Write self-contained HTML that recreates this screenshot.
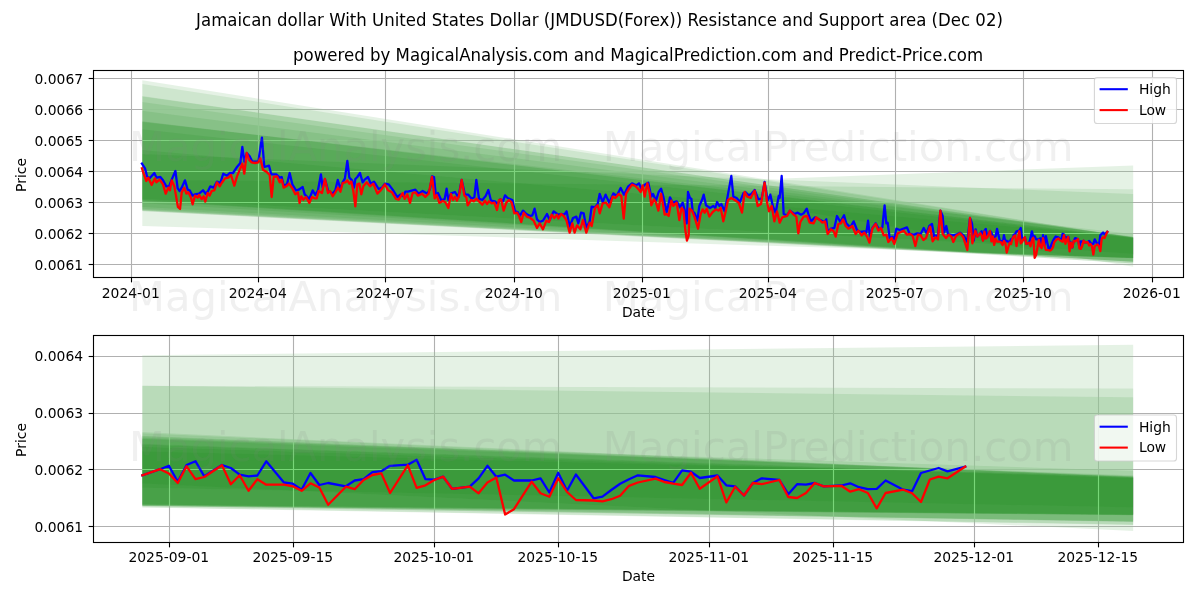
<!DOCTYPE html>
<html lang="en"><head><meta charset="utf-8"><title>JMDUSD Resistance and Support area</title>
<style>html,body{margin:0;padding:0;background:#fff}body{width:1200px;height:600px;overflow:hidden}</style></head>
<body>
<svg width="1200" height="600" viewBox="0 0 1200 600" style="display:block;font-family:'DejaVu Sans','Liberation Sans',sans-serif">
<rect width="1200" height="600" fill="#fff"/>
<defs><clipPath id="c1"><rect x="93.5" y="70.5" width="1090.0" height="207.0"/></clipPath><clipPath id="c2"><rect x="93.5" y="335.5" width="1090.0" height="207.0"/></clipPath></defs>
<g clip-path="url(#c1)">
<g fill="#008000" fill-opacity="0.1" stroke="none">
<polygon points="142.3,80.3 1133.2,237.6 1133.2,258 977.5,252.4 142.3,226"/>
<polygon points="142.3,84 1133.2,237.6 1133.2,263.6 977.5,254 142.3,211.3"/>
<polygon points="142.3,96 1133.2,237.4 1133.2,263.4 977.5,253.8 142.3,211"/>
<polygon points="142.3,96.5 1133.2,237 1133.2,258.3 977.5,253.4 142.3,210.6"/>
<polygon points="142.3,102 1133.2,237 1133.2,258.2 977.5,253.2 142.3,210.2"/>
<polygon points="142.3,110.7 1133.2,236.5 1133.2,258.1 977.5,253 142.3,209.7"/>
<polygon points="142.3,121.3 1133.2,237.6 1133.2,258.1 977.5,252.8 142.3,208.7"/>
<polygon points="142.3,121.6 1133.2,238 1133.2,258 977.5,252.6 142.3,207"/>
<polygon points="142.3,121.9 1133.2,234.1 1133.2,261.9 977.5,252.5 142.3,203.3"/>
<polygon points="142.3,129.3 1133.2,238 1133.2,261.7 977.5,252.2 142.3,200.5"/>
<polygon points="142.3,150 1133.2,237 1133.2,254 977.5,243.3 142.3,199"/>
<polygon points="783,178.5 1133.2,165.4 1133.2,266.8 783,208.5"/>
<polygon points="142.3,179.7 1133.2,189.3 1133.2,261.8 977.5,253 142.3,200"/>
<polygon points="142.3,154 1133.2,194.05 1133.2,261.6 977.5,253.2 142.3,201"/>
</g>
<g stroke="#b0b0b0" stroke-width="1.11" fill="none" style="mix-blend-mode:luminosity">
<line x1="131.5" y1="70.5" x2="131.5" y2="277.5"/>
<line x1="258.5" y1="70.5" x2="258.5" y2="277.5"/>
<line x1="385.5" y1="70.5" x2="385.5" y2="277.5"/>
<line x1="514.5" y1="70.5" x2="514.5" y2="277.5"/>
<line x1="642.5" y1="70.5" x2="642.5" y2="277.5"/>
<line x1="768.5" y1="70.5" x2="768.5" y2="277.5"/>
<line x1="895.5" y1="70.5" x2="895.5" y2="277.5"/>
<line x1="1023.5" y1="70.5" x2="1023.5" y2="277.5"/>
<line x1="1152.5" y1="70.5" x2="1152.5" y2="277.5"/>
<line x1="93.5" y1="264.5" x2="1183.5" y2="264.5"/>
<line x1="93.5" y1="233.5" x2="1183.5" y2="233.5"/>
<line x1="93.5" y1="202.5" x2="1183.5" y2="202.5"/>
<line x1="93.5" y1="171.5" x2="1183.5" y2="171.5"/>
<line x1="93.5" y1="140.5" x2="1183.5" y2="140.5"/>
<line x1="93.5" y1="109.5" x2="1183.5" y2="109.5"/>
<line x1="93.5" y1="78.5" x2="1183.5" y2="78.5"/>
</g>
<polyline points="141.93,163.67 145,168.33 147,176.33 149.67,178.33 154.33,173 156.6,177.67 160.33,177 163,180.33 166.33,186.33 169,186.33 171.67,179.67 175.4,171 177.67,188.33 179.67,191 181.67,187.67 185,180.33 187.67,189.67 189.67,190.33 192.6,195.67 195,194.33 199,193.67 203,190.33 205.67,193.67 207.67,191.67 210.33,186.33 213.67,187.67 217,181.67 220.33,183 223.27,173.67 227,175.67 229.67,173 233,173 237,167 240.33,163 242.33,147 244.33,161.67 246.73,153 249.67,156.33 252.33,161.67 258.33,161.67 261.93,137.67 264.33,167 269,165.67 271.27,174.33 276.33,174.33 279.67,177.67 281.67,177 283.67,185.67 287,184.33 289.67,173 292.33,184.33 296,190.33 298.67,189.67 302.67,187 304.67,194.33 309.33,199 312.67,190.33 315.33,195 318,190.33 320.93,174.33 322.67,187.67 324.93,179 328,190.33 332.67,193.67 335.33,190.33 337.73,179.93 340.4,189 342.67,182.33 344.93,178.33 347.33,161 349.33,177.67 352,180.33 354,187.67 355.33,179 357.33,177 360,173 362.67,182.33 364.67,179.67 368,177 370.67,183.67 374,181.67 378.67,189 382,187.67 384.93,183.67 388.67,184.33 392.67,189.67 397.33,197 400.67,194.33 403.33,196.33 405.33,191.67 408,191.67 415.33,189.67 418.67,193.67 422.67,191 427.33,193.67 430,189 432,176.33 434,177 436,196.33 438,193 441.33,200.33 444.67,199 446.6,188.67 448.33,200 451,193.33 455,192 458.33,197.33 461.67,180 465,194.67 468.33,194.67 471.67,198.67 474.33,197.33 476.33,180 479,198.67 482.33,200 485.67,196 488.33,190 491,200.67 495,201.33 497.67,204 500.33,199.33 503,201.33 505,195.33 507.67,198 512.33,200 515,211.33 517.67,212 519.67,216 523,210.67 526.33,214 530.33,216 532.33,215.33 534.6,208.67 537,219.33 539.67,222 543,220.67 547,214 549.67,220 553.67,211.33 558.33,214.67 561.67,214 564.33,214.67 566.6,211.33 569.67,226.67 573,218 576.33,216.67 578.33,223.33 581,212.67 583.67,213.33 586.33,228 589.67,221.33 591.67,206.67 595,207.33 597.67,204 599.67,194 602.67,202 605.6,194.67 609.33,202.67 613.33,193.33 616.67,196 620.67,188 624,194.67 628,186.67 632,183.33 636,185.33 638.93,183.33 641.33,188.67 644.67,184.67 648.27,182.67 651.33,196.67 653.07,194 656,200.67 658.67,192 661.07,188.67 663.33,196.67 666.67,212 670,197.33 672.67,202.67 676.67,201.33 680,207.33 682.67,202.67 684.67,210 686.67,223.33 688,192 690,198 691.33,198.67 692.67,211.33 694.67,213.33 697.33,220.67 699.33,206 702,200 703.73,194.67 706,205.33 710,208 713.33,206 715.33,208 717.07,202 719.33,206 721.33,204 724.67,211.33 727.33,198 731.33,176 733.33,196.67 736.67,198 740,202 743.33,193.33 745.33,192 748.67,195.33 751.33,194 754.67,190 758.33,199.33 761.67,198.67 764.6,182 767.67,200.67 770.33,194.67 773,206.67 775.67,212.67 778.73,196 779.67,198 781.67,176 783.67,214 787,215.33 789.93,210.67 794.33,214 797.67,212.67 801,214.67 803.67,213.33 806.73,208.67 809,216 811,221.33 815,217.33 820.33,220 824.33,222 826.33,219.33 827.67,232 831,228.67 834.33,228 837,216 840.33,222 844.07,215.33 846.33,223.33 850.33,227.33 853.67,221.33 857,230 860.33,232 864.33,231.33 866.33,232.67 868.07,220.67 869.93,236.67 872.33,228 875.67,223.33 879,229.33 882.33,227.33 884.6,205.33 886.33,223.33 887.67,222.67 889.67,238 892.33,236.67 894.33,239.33 896.33,228.67 899.67,230 903.67,228.67 907,227.33 909.67,234 914,234.67 917.33,233.33 920.67,234 923.73,228 926.67,233.33 929.33,226 932,224 934,236 938,235.33 940.4,210.67 942.67,216 944,232.67 946.27,226 948,234 952.67,235.33 956,234.67 960,232.67 964,236 967.33,242 970,218 972,223.33 973.73,240.67 975.6,229.33 977.43,236.51 980.22,233.19 981.62,231.34 983.01,240 984.41,230.91 985.8,228.84 987.2,237.06 989.99,230.91 991.39,232.54 992.79,236.19 994.18,237.06 995.58,236.62 996.98,228.89 999.77,240.43 1001.17,241.08 1002.56,244.35 1003.96,235.26 1005.36,241.79 1006.75,240.7 1009.54,242.5 1010.94,239.34 1012.34,238.64 1013.73,234.82 1015.13,234.28 1016.53,231.34 1019.32,230.74 1020.72,228.02 1022.11,238.64 1023.51,238.91 1024.91,237.27 1026.3,243.86 1029.1,242.72 1030.49,238.15 1031.89,231.34 1033.29,237.27 1034.68,236.19 1036.08,239.34 1038.87,239.34 1040.27,238.15 1041.66,245.87 1043.06,235.15 1044.46,244.95 1045.85,236.08 1048.65,249.03 1050.04,248.16 1051.44,244.51 1052.84,241.08 1054.23,238.64 1055.63,236.51 1058.42,237.44 1059.82,239.07 1061.22,240.59 1062.61,233.79 1064.01,234.55 1065.4,237.98 1068.2,236.62 1069.59,241.96 1070.99,242.5 1072.39,247.51 1073.78,240.7 1075.18,238.15 1077.97,239.07 1079.37,246.8 1080.77,241.36 1082.16,241.63 1083.56,240.7 1084.96,242.5 1087.75,242.06 1089.15,240.87 1090.54,242.99 1091.94,244.08 1093.34,243.86 1094.73,239.34 1097.52,244.35 1098.92,245.17 1100.32,235.26 1101.71,233.9 1103.11,232.54 1104.51,234.33 1107.3,231.83" fill="none" stroke="#0000ff" stroke-width="2.3" stroke-linejoin="round" stroke-linecap="square"/>
<polyline points="141.93,168.33 143.67,173.67 146.33,181 148.33,177.67 151.67,185 155,178.33 156.33,182.33 159.67,179.67 163,184.33 165.67,193.67 168.33,187.67 169.93,190.33 171.67,180.33 174.33,186.33 176.33,197.67 177.93,207 180.07,209 181.67,192.33 184.33,187.67 186.33,193.67 188.33,192.33 191,197.67 192.6,204.33 195,195.67 197.67,197.67 199,195 201.67,199 203.67,196.33 205.27,201.67 207.67,193 209.67,195.67 211.67,191 214.33,190.33 217,182.33 219.67,186.33 221.67,183 225,178.33 228.33,177.67 231,175 234.33,185.67 237,176.33 240.33,168.33 242.33,163.67 244.33,173.67 246.73,153 249,159.67 251.67,162.33 255,163 258.33,162.33 260.33,158.33 263,169.67 266.33,171.67 269.67,175 271.67,197 273.67,177 277,176.33 279.67,182.33 281.67,179.67 283.67,187.67 286.33,186.33 289,183.67 292.33,188.33 295.33,194.33 298,192.33 299.6,203 301.33,196.33 303.33,199.67 306,197 309.33,203 312,197 314.67,198.33 316.67,198.33 318.67,191 322,193 324.93,179 328,193 330,191 332.67,196.33 335.33,192.33 338,187.67 340.4,191.67 342.67,183 345.33,182.33 347.33,180.33 349.33,183.67 351.33,181.67 353.33,191 355.33,206.33 357.33,184.33 359.33,183.67 361.33,194.33 363.33,186.33 366.67,182.33 370,186.33 373.33,183.67 377.33,193.67 380.67,190.33 384.93,184.33 388,190.33 392,192.33 396,199 398.67,199.67 402.67,193 404.67,199 407.33,194.33 410,203 412.67,193 415.33,192.33 418,195.67 422,193.67 425.33,197 428.67,193.67 432,177 434.67,198.33 436.67,195 439.33,203 442.67,201 445.33,202.33 448.33,208 451,194 453,200 455,196.67 457,200.67 459,196 461.67,180 464.33,195.33 466.33,197.33 467.67,205.33 471,200 473.67,201.33 476.33,198.67 479,201.33 482.33,204.67 485,200.67 487,204 489,201.33 491.67,203.33 494.33,202.67 497,210 499,200 501,199.33 503.67,210.67 506.33,202.67 509,200 511.67,202.67 514.33,213.33 517,212.67 519,216 521.27,222 523.67,212.67 527,216.67 530.33,218 533.67,220.67 537,228 539.67,223.33 543,229.33 546.33,220.67 549,222 551.67,214.67 554.33,218 557,214.67 558.33,218.67 561,214 563.67,216 566.33,220 569.67,232.67 572.33,223.33 574.6,232.67 577,225.33 580.33,229.33 583,220 586.33,232.67 589.67,222.67 591.67,226 595,208 597.67,205.33 599.67,213.33 602.67,203.33 606,202.67 609.33,207.33 612.67,196.67 615.33,198 618.67,194 621.33,196 623.73,218.67 626,194 628.67,189.33 632,184.67 635.33,186 638.67,189.33 640.67,192 642.67,185.33 644.67,196.67 647.33,183.33 649.6,192.67 651.33,205.33 654,199.33 656,202.67 658.4,210.67 661.07,194 662.67,202.67 664.67,214.67 666.67,214 668.67,216 671.33,200.67 673.33,206 676.67,202.67 679.33,220 681.6,208 683.33,210 685.33,230 686.93,240.67 688.67,235.33 689.6,208.67 692,210.67 694.67,217.33 698,228.67 700.67,214 702.67,209.33 704.67,212.67 706.67,208.67 709.33,216.67 712.67,212 716,209.33 718.67,210.67 720.67,208 723.33,221.33 726,210 728,200 731.33,198 734.67,200 738.67,202.67 742,212.67 744.67,192 747.33,196.67 750.67,198 754.67,190.67 757.67,206 761,204 764.6,182.67 767,202 769,211.33 771.67,206 774.33,221.33 777,211.33 779.67,222.67 782.33,217.33 787,216 789.93,210.67 793.67,214.67 796.33,216.67 798.33,233.33 800.33,222 803.67,216.67 807,216 809.67,222.67 813.67,223.33 816.33,217.33 819.67,220 822.33,222.67 825,221.33 827.67,234 831,229.33 833.67,231.33 835.67,236.67 838.33,224 841,223.33 843,219.33 845.67,226 848.33,228.67 852.33,226 855.67,234 858.33,230.67 861.67,235.33 864.33,232.67 867,236.67 869.4,242.67 872.33,228.67 875.67,224 878.33,230.67 881,228 883.67,235.33 886.33,234.67 888.33,242 891.67,238 894.33,244 897.67,233.33 901,232 903.67,230.67 907,234.67 910.33,234 912.67,236 915.33,246 918,234.67 920.67,235.33 923.33,240 926,238 930,226.67 932.67,241.33 935.33,237.33 938,239.33 940.4,210.67 942.67,234 946,238 948.67,234.67 951.33,236.67 953.33,242 956,236 960,233.33 963.33,237.33 967.33,250 970,218 972.4,243.33 975.33,230.67 977.43,236.51 980.22,233.19 981.62,235.53 983.01,240.7 984.41,231.61 985.8,238.64 987.2,237.44 989.99,231.07 991.39,241.36 992.79,236.51 994.18,244.95 995.58,238.64 996.98,241.63 999.77,241.63 1001.17,242.5 1002.56,244.95 1003.96,240.87 1005.36,243.15 1006.75,252.52 1009.54,242.72 1010.94,244.08 1012.34,239.07 1013.73,236.35 1015.13,235.42 1016.53,246.15 1019.32,231.07 1020.72,243.32 1022.11,241.96 1023.51,239.07 1024.91,237.27 1026.3,243.86 1029.1,242.72 1030.49,246.31 1031.89,240.43 1033.29,237.71 1034.68,257.85 1036.08,254.97 1038.87,240 1040.27,246.31 1041.66,248.16 1043.06,238.15 1044.46,245.6 1045.85,249.96 1048.65,250.23 1050.04,250.66 1051.44,249.52 1052.84,247.67 1054.23,242.23 1055.63,240.43 1058.42,238.36 1059.82,240.16 1061.22,241.08 1062.61,241.79 1064.01,235.15 1065.4,243.86 1068.2,237.06 1069.59,251.32 1070.99,242.72 1072.39,247.51 1073.78,240.7 1075.18,241.36 1077.97,239.07 1079.37,248.32 1080.77,248.87 1082.16,246.15 1083.56,240.7 1084.96,242.5 1087.75,242.23 1089.15,245.44 1090.54,244.08 1091.94,246.15 1093.34,254.48 1094.73,246.15 1097.52,244.35 1098.92,246.31 1100.32,251.05 1101.71,238.8 1103.11,237.27 1104.51,238.15 1107.3,231.83" fill="none" stroke="#ff0000" stroke-width="2.3" stroke-linejoin="round" stroke-linecap="square"/>
</g>
<g stroke="#000" stroke-width="1.11">
<line x1="131.5" y1="277.5" x2="131.5" y2="282.36"/>
<line x1="258.5" y1="277.5" x2="258.5" y2="282.36"/>
<line x1="385.5" y1="277.5" x2="385.5" y2="282.36"/>
<line x1="514.5" y1="277.5" x2="514.5" y2="282.36"/>
<line x1="642.5" y1="277.5" x2="642.5" y2="282.36"/>
<line x1="768.5" y1="277.5" x2="768.5" y2="282.36"/>
<line x1="895.5" y1="277.5" x2="895.5" y2="282.36"/>
<line x1="1023.5" y1="277.5" x2="1023.5" y2="282.36"/>
<line x1="1152.5" y1="277.5" x2="1152.5" y2="282.36"/>
<line x1="93.5" y1="264.5" x2="88.64" y2="264.5"/>
<line x1="93.5" y1="233.5" x2="88.64" y2="233.5"/>
<line x1="93.5" y1="202.5" x2="88.64" y2="202.5"/>
<line x1="93.5" y1="171.5" x2="88.64" y2="171.5"/>
<line x1="93.5" y1="140.5" x2="88.64" y2="140.5"/>
<line x1="93.5" y1="109.5" x2="88.64" y2="109.5"/>
<line x1="93.5" y1="78.5" x2="88.64" y2="78.5"/>
</g>
<rect x="93.5" y="70.5" width="1090.0" height="207" fill="none" stroke="#000" stroke-width="1.11"/>
<g font-size="13.89px" fill="#000">
<text x="130.8" y="297.8" text-anchor="middle">2024-01</text>
<text x="257.8" y="297.8" text-anchor="middle">2024-04</text>
<text x="384.8" y="297.8" text-anchor="middle">2024-07</text>
<text x="513.8" y="297.8" text-anchor="middle">2024-10</text>
<text x="641.8" y="297.8" text-anchor="middle">2025-01</text>
<text x="767.8" y="297.8" text-anchor="middle">2025-04</text>
<text x="894.8" y="297.8" text-anchor="middle">2025-07</text>
<text x="1022.8" y="297.8" text-anchor="middle">2025-10</text>
<text x="1151.8" y="297.8" text-anchor="middle">2026-01</text>
<text x="83.1" y="269.8" text-anchor="end">0.0061</text>
<text x="83.1" y="238.8" text-anchor="end">0.0062</text>
<text x="83.1" y="207.8" text-anchor="end">0.0063</text>
<text x="83.1" y="176.8" text-anchor="end">0.0064</text>
<text x="83.1" y="145.8" text-anchor="end">0.0065</text>
<text x="83.1" y="114.8" text-anchor="end">0.0066</text>
<text x="83.1" y="83.8" text-anchor="end">0.0067</text>
<text x="638.5" y="316.7" text-anchor="middle">Date</text>
<text transform="translate(26.3,175) rotate(-90)" text-anchor="middle">Price</text>
</g>
<rect x="1094.4" y="77.5" width="82.1" height="46" rx="2.8" ry="2.8" fill="#fff" fill-opacity="0.8" stroke="#ccc" stroke-opacity="0.8" stroke-width="1.11"/>
<line x1="1099.6" y1="89.2" x2="1127.8" y2="89.2" stroke="#0000ff" stroke-width="2.08"/>
<line x1="1099.6" y1="110.1" x2="1127.8" y2="110.1" stroke="#ff0000" stroke-width="2.08"/>
<text x="1138.9" y="94" font-size="13.89px">High</text>
<text x="1138.9" y="114.9" font-size="13.89px">Low</text>
<g clip-path="url(#c2)">
<g fill="#008000" fill-opacity="0.1" stroke="none">
<polygon points="142.3,432.07 1133.2,477.3 1133.2,514.78 142.3,504.53"/>
<polygon points="142.3,433.14 1133.2,477.3 1133.2,525.06 142.3,507.5"/>
<polygon points="142.3,436.28 1133.2,476.93 1133.2,524.7 142.3,507.13"/>
<polygon points="142.3,435.8 1133.2,476.2 1133.2,515.33 142.3,506.36"/>
<polygon points="142.3,437.38 1133.2,476.2 1133.2,515.14 142.3,505.99"/>
<polygon points="142.3,439.11 1133.2,475.28 1133.2,514.96 142.3,505.63"/>
<polygon points="142.3,443.86 1133.2,477.3 1133.2,514.96 142.3,505.26"/>
<polygon points="142.3,444.57 1133.2,478.03 1133.2,514.78 142.3,504.89"/>
<polygon points="142.3,438.61 1133.2,470.87 1133.2,521.94 142.3,504.74"/>
<polygon points="142.3,446.78 1133.2,478.03 1133.2,521.57 142.3,504.19"/>
<polygon points="142.3,451.18 1133.2,476.2 1133.2,507.43 142.3,487.85"/>
<polygon points="142.3,355.32 1133.2,344.66 1133.2,530.94 142.3,483.51"/>
<polygon points="142.3,385.81 1133.2,388.57 1133.2,521.76 142.3,505.65"/>
<polygon points="142.3,385.78 1133.2,397.29 1133.2,521.39 142.3,506.02"/>
</g>
<g stroke="#b0b0b0" stroke-width="1.11" fill="none" style="mix-blend-mode:luminosity">
<line x1="169.5" y1="335.5" x2="169.5" y2="542.5"/>
<line x1="293.5" y1="335.5" x2="293.5" y2="542.5"/>
<line x1="434.5" y1="335.5" x2="434.5" y2="542.5"/>
<line x1="558.5" y1="335.5" x2="558.5" y2="542.5"/>
<line x1="709.5" y1="335.5" x2="709.5" y2="542.5"/>
<line x1="833.5" y1="335.5" x2="833.5" y2="542.5"/>
<line x1="974.5" y1="335.5" x2="974.5" y2="542.5"/>
<line x1="1098.5" y1="335.5" x2="1098.5" y2="542.5"/>
<line x1="93.5" y1="526.5" x2="1183.5" y2="526.5"/>
<line x1="93.5" y1="469.5" x2="1183.5" y2="469.5"/>
<line x1="93.5" y1="413.5" x2="1183.5" y2="413.5"/>
<line x1="93.5" y1="356.5" x2="1183.5" y2="356.5"/>
</g>
<polyline points="142.36,475.3 160.05,469.2 168.9,465.8 177.75,481.7 186.6,465 195.44,461.2 204.29,476.3 221.99,465 230.84,468 239.68,474.7 248.53,476.3 257.38,475.5 266.23,461.3 283.92,482.5 292.77,483.7 301.62,489.7 310.47,473 319.32,485 328.16,483 345.86,486.3 354.71,480.5 363.56,479.2 372.4,472.2 381.25,471.2 390.1,465.8 407.8,464.7 416.64,459.7 425.49,479.2 434.34,479.7 443.19,476.7 452.04,488.8 469.73,486.7 478.58,478.3 487.43,465.8 496.28,476.7 505.12,474.7 513.97,480.5 531.67,480.5 540.52,478.3 549.36,492.5 558.21,472.8 567.06,490.8 575.91,474.5 593.6,498.3 602.45,496.7 611.3,490 620.15,483.7 629,479.2 637.84,475.3 655.54,477 664.39,480 673.24,482.8 682.08,470.3 690.93,471.7 699.78,478 717.48,475.5 726.32,485.3 735.17,486.3 744.02,495.5 752.87,483 761.72,478.3 779.41,480 788.26,494.2 797.11,484.2 805.96,484.7 814.8,483 823.65,486.3 841.35,485.5 850.2,483.3 859.04,487.2 867.89,489.2 876.74,488.8 885.59,480.5 903.28,489.7 912.13,491.2 920.98,473 929.83,470.5 938.68,468 947.52,471.3 965.22,466.7" fill="none" stroke="#0000ff" stroke-width="2.3" stroke-linejoin="round" stroke-linecap="square"/>
<polyline points="142.36,475.3 160.05,469.2 168.9,473.5 177.75,483 186.6,466.3 195.44,479.2 204.29,477 221.99,465.3 230.84,484.2 239.68,475.3 248.53,490.8 257.38,479.2 266.23,484.7 283.92,484.7 292.77,486.3 301.62,490.8 310.47,483.3 319.32,487.5 328.16,504.7 345.86,486.7 354.71,489.2 363.56,480 372.4,475 381.25,473.3 390.1,493 407.8,465.3 416.64,487.8 425.49,485.3 434.34,480 443.19,476.7 452.04,488.8 469.73,486.7 478.58,493.3 487.43,482.5 496.28,477.5 505.12,514.5 513.97,509.2 531.67,481.7 540.52,493.3 549.36,496.7 558.21,478.3 567.06,492 575.91,500 593.6,500.5 602.45,501.3 611.3,499.2 620.15,495.8 629,485.8 637.84,482.5 655.54,478.7 664.39,482 673.24,483.7 682.08,485 690.93,472.8 699.78,488.8 717.48,476.3 726.32,502.5 735.17,486.7 744.02,495.5 752.87,483 761.72,484.2 779.41,480 788.26,497 797.11,498 805.96,493 814.8,483 823.65,486.3 841.35,485.8 850.2,491.7 859.04,489.2 867.89,493 876.74,508.3 885.59,493 903.28,489.7 912.13,493.3 920.98,502 929.83,479.5 938.68,476.7 947.52,478.3 965.22,466.7" fill="none" stroke="#ff0000" stroke-width="2.3" stroke-linejoin="round" stroke-linecap="square"/>
</g>
<g stroke="#000" stroke-width="1.11">
<line x1="169.5" y1="542.5" x2="169.5" y2="547.36"/>
<line x1="293.5" y1="542.5" x2="293.5" y2="547.36"/>
<line x1="434.5" y1="542.5" x2="434.5" y2="547.36"/>
<line x1="558.5" y1="542.5" x2="558.5" y2="547.36"/>
<line x1="709.5" y1="542.5" x2="709.5" y2="547.36"/>
<line x1="833.5" y1="542.5" x2="833.5" y2="547.36"/>
<line x1="974.5" y1="542.5" x2="974.5" y2="547.36"/>
<line x1="1098.5" y1="542.5" x2="1098.5" y2="547.36"/>
<line x1="93.5" y1="526.5" x2="88.64" y2="526.5"/>
<line x1="93.5" y1="469.5" x2="88.64" y2="469.5"/>
<line x1="93.5" y1="413.5" x2="88.64" y2="413.5"/>
<line x1="93.5" y1="356.5" x2="88.64" y2="356.5"/>
</g>
<rect x="93.5" y="335.5" width="1090.0" height="207" fill="none" stroke="#000" stroke-width="1.11"/>
<g font-size="13.89px" fill="#000">
<text x="168.8" y="561.9" text-anchor="middle">2025-09-01</text>
<text x="292.8" y="561.9" text-anchor="middle">2025-09-15</text>
<text x="433.8" y="561.9" text-anchor="middle">2025-10-01</text>
<text x="557.8" y="561.9" text-anchor="middle">2025-10-15</text>
<text x="708.8" y="561.9" text-anchor="middle">2025-11-01</text>
<text x="832.8" y="561.9" text-anchor="middle">2025-11-15</text>
<text x="973.8" y="561.9" text-anchor="middle">2025-12-01</text>
<text x="1097.8" y="561.9" text-anchor="middle">2025-12-15</text>
<text x="83.1" y="531.8" text-anchor="end">0.0061</text>
<text x="83.1" y="474.85" text-anchor="end">0.0062</text>
<text x="83.1" y="417.9" text-anchor="end">0.0063</text>
<text x="83.1" y="360.95" text-anchor="end">0.0064</text>
<text x="638.5" y="581.4" text-anchor="middle">Date</text>
<text transform="translate(26.3,440) rotate(-90)" text-anchor="middle">Price</text>
</g>
<rect x="1094.4" y="415" width="82.1" height="46" rx="2.8" ry="2.8" fill="#fff" fill-opacity="0.8" stroke="#ccc" stroke-opacity="0.8" stroke-width="1.11"/>
<line x1="1099.6" y1="426.7" x2="1127.8" y2="426.7" stroke="#0000ff" stroke-width="2.08"/>
<line x1="1099.6" y1="447.6" x2="1127.8" y2="447.6" stroke="#ff0000" stroke-width="2.08"/>
<text x="1138.9" y="431.5" font-size="13.89px">High</text>
<text x="1138.9" y="452.4" font-size="13.89px">Low</text>
<text x="599.5" y="25.8" font-size="17.2px" text-anchor="middle" textLength="806.8" lengthAdjust="spacingAndGlyphs">Jamaican dollar With United States Dollar (JMDUSD(Forex)) Resistance and Support area (Dec 02)</text>
<text x="638.1" y="61.4" font-size="17.2px" text-anchor="middle" textLength="690.2" lengthAdjust="spacingAndGlyphs">powered by MagicalAnalysis.com and MagicalPrediction.com and Predict-Price.com</text>
<g font-size="41.67px" fill="#808080" fill-opacity="0.12">
<text x="129" y="161.4">MagicalAnalysis.com</text>
<text x="602.7" y="161.4" textLength="470.9" lengthAdjust="spacingAndGlyphs">MagicalPrediction.com</text>
<text x="129" y="311.4">MagicalAnalysis.com</text>
<text x="602.7" y="311.4" textLength="470.9" lengthAdjust="spacingAndGlyphs">MagicalPrediction.com</text>
<text x="129" y="461.4">MagicalAnalysis.com</text>
<text x="602.7" y="461.4" textLength="470.9" lengthAdjust="spacingAndGlyphs">MagicalPrediction.com</text>
</g>
</svg>
</body></html>
